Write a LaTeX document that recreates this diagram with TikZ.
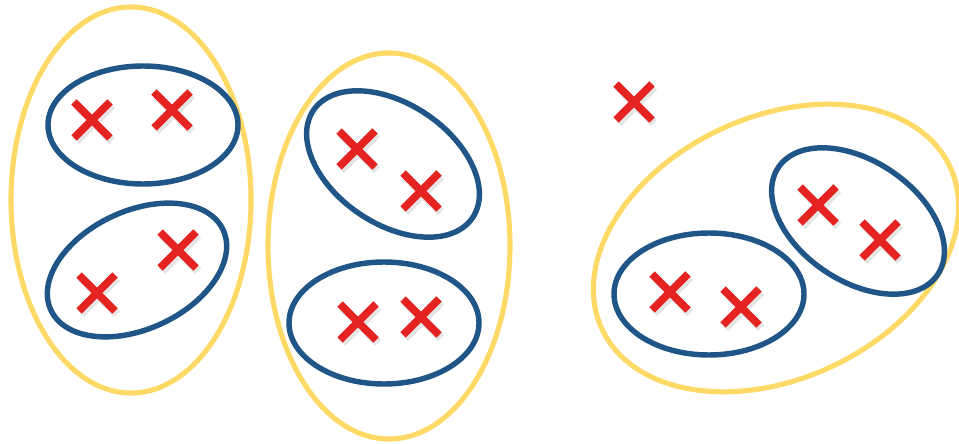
\documentclass[tikz,border=0pt]{standalone}
\usepackage{tikz}
\definecolor{setgold}{HTML}{FFD966}
\definecolor{setblue}{HTML}{1F5687}
\definecolor{ptred}{HTML}{E52321}

\begin{document}
\begin{tikzpicture}[x=0.02cm,y=0.02cm]
  \useasboundingbox (0,0) rectangle (959,443);
  \tikzset{outer/.style={line width=2.9pt,setgold},
    inner/.style={line width=3.1pt,setblue},
    crossarm/.style={line width=4.4pt,ptred},
    crossshade/.style={line width=5pt,black,opacity=0.1}}
  % outer clusters
  \draw[outer] (131,243) ellipse (120 and 193);
  \draw[outer] (389,197) ellipse (121 and 193);
  \draw[outer] (776,195) ellipse [x radius=192,y radius=131,rotate=25];
  % inner clusters
  \draw[inner] (143,318) ellipse (95 and 59);
  \draw[inner] (137,173) ellipse [x radius=95,y radius=59,rotate=25];
  \draw[inner] (393,279) ellipse [x radius=96,y radius=60,rotate=-34];
  \draw[inner] (384,120) ellipse (95 and 61);
  \draw[inner] (709,149) ellipse (95 and 61);
  \draw[inner] (858,222) ellipse [x radius=96,y radius=60,rotate=-34];
  % points
  \foreach \px/\py in {92/323,172/333,97/150,178/193,357/294,421/252,358/121,421/126,634/341,670/151,741/136,818/238,880/203} {
    \draw[crossshade,shift={(\px,\py)}] (-16,-21)--(20,15) (-16,15)--(20,-21);
    \draw[crossarm,shift={(\px,\py)}] (-18,-18)--(18,18) (-18,18)--(18,-18);
  }
\end{tikzpicture}
\end{document}
